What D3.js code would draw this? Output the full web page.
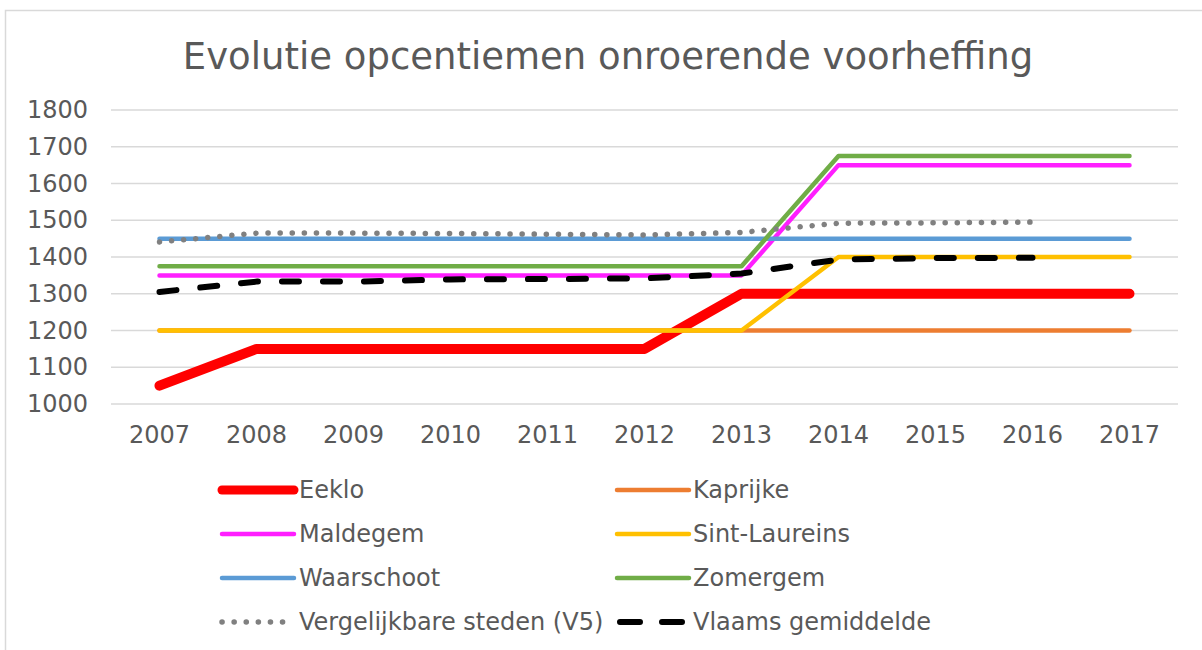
<!DOCTYPE html>
<html>
  <head>
    <meta charset="utf-8">
    <title>Evolutie opcentiemen onroerende voorheffing</title>
    <script src="https://d3js.org/d3.v7.min.js"></script>
    <style>
      body { margin: 0; background: #fff; overflow: hidden; }
      text { font-family: "DejaVu Sans", Verdana, sans-serif; fill: #595959; }
    </style>
  </head>
  <body>
    <svg width="1202" height="650"></svg>
    <script>
      const years = ['2007','2008','2009','2010','2011','2012','2013','2014','2015','2016','2017'];
      const yTicks = [1000, 1100, 1200, 1300, 1400, 1500, 1600, 1700, 1800];

      const eeklo        = [1050, 1150, 1150, 1150, 1150, 1150, 1300, 1300, 1300, 1300, 1300];
      const kaprijke     = [1200, 1200, 1200, 1200, 1200, 1200, 1200, 1200, 1200, 1200, 1200];
      const maldegem     = [1350, 1350, 1350, 1350, 1350, 1350, 1350, 1650, 1650, 1650, 1650];
      const sintLaureins = [1200, 1200, 1200, 1200, 1200, 1200, 1200, 1400, 1400, 1400, 1400];
      const waarschoot   = [1450, 1450, 1450, 1450, 1450, 1450, 1450, 1450, 1450, 1450, 1450];
      const zomergem     = [1375, 1375, 1375, 1375, 1375, 1375, 1375, 1675, 1675, 1675, 1675];
      const v5           = [1441, 1465, 1465, 1464, 1462, 1460, 1467, 1492, 1493, 1495, null];
      const vlaams       = [1305, 1333, 1333, 1339, 1340, 1342, 1355, 1393, 1397, 1398, null];

      const series = [
        { name: 'Eeklo', values: eeklo, color: '#FF0000', width: 10 },
        { name: 'Kaprijke', values: kaprijke, color: '#ED7D31', width: 4.5 },
        { name: 'Maldegem', values: maldegem, color: '#FF1FFF', width: 4.5 },
        { name: 'Sint-Laureins', values: sintLaureins, color: '#FFC000', width: 4.5 },
        { name: 'Waarschoot', values: waarschoot, color: '#5B9BD5', width: 4.5 },
        { name: 'Zomergem', values: zomergem, color: '#70AD47', width: 4.5 },
        { name: 'Vergelijkbare steden (V5)', values: v5, color: '#808080', width: 5.5, dash: '0.1 12' },
        { name: 'Vlaams gemiddelde', values: vlaams, color: '#000000', width: 6, dash: '17 24' }
      ];

      const svg = d3.select('svg');

      // chart frame (only top and left edges are visible in the crop)
      svg.append('path')
        .attr('d', 'M5.5,650 V10.5 H1202')
        .attr('fill', 'none')
        .attr('stroke', '#D9D9D9')
        .attr('stroke-width', 1.5);

      svg.append('text')
        .attr('x', 608)
        .attr('y', 69)
        .attr('text-anchor', 'middle')
        .style('font-size', '37px')
        .text('Evolutie opcentiemen onroerende voorheffing');

      const x = d3.scaleBand().domain(years).range([111, 1178]);
      const y = d3.scaleLinear().domain([1000, 1800]).range([404, 110]);

      // gridlines
      svg.append('g')
        .selectAll('line')
        .data(yTicks)
        .join('line')
          .attr('x1', 111)
          .attr('x2', 1178)
          .attr('y1', d => y(d))
          .attr('y2', d => y(d))
          .attr('stroke', '#D9D9D9')
          .attr('stroke-width', 1.5);

      const yAxis = svg.append('g')
        .attr('transform', 'translate(111,0)')
        .call(d3.axisLeft(y).tickValues(yTicks).tickSize(0).tickPadding(23).tickFormat(d3.format('d')));
      yAxis.select('.domain').remove();
      yAxis.selectAll('text').style('font-size', '24px').attr('fill', '#595959');

      const xAxis = svg.append('g')
        .attr('transform', 'translate(0,404)')
        .call(d3.axisBottom(x).tickSize(0).tickPadding(22));
      xAxis.select('.domain').remove();
      xAxis.selectAll('text').style('font-size', '24px').attr('fill', '#595959');

      const line = d3.line()
        .defined(d => d != null)
        .x((d, i) => x(years[i]) + x.bandwidth() / 2)
        .y(d => y(d));

      svg.append('g')
        .selectAll('path')
        .data(series)
        .join('path')
          .attr('d', d => line(d.values))
          .attr('fill', 'none')
          .attr('stroke', d => d.color)
          .attr('stroke-width', d => d.width)
          .attr('stroke-linecap', 'round')
          .attr('stroke-linejoin', 'round')
          .attr('stroke-dasharray', d => d.dash || null);

      // legend: two columns, four rows
      const legend = svg.append('g')
        .selectAll('g')
        .data(series)
        .join('g')
          .attr('transform', (d, i) => `translate(${i % 2 ? 617 : 222},${490 + Math.floor(i / 2) * 44})`);

      legend.append('line')
        .attr('x1', 0)
        .attr('x2', d => d.dash === '17 24' ? 66 : 72)
        .attr('stroke', d => d.color)
        .attr('stroke-width', d => d.width === 10 ? 9 : d.width)
        .attr('stroke-linecap', 'round')
        .attr('stroke-dasharray', d => d.dash === '0.1 12' ? '0.1 12' : (d.dash ? '20 22' : null))
        .attr('transform', d => d.dash === '17 24' ? 'translate(3,0)' : null);

      legend.append('text')
        .attr('x', (d, i) => i % 2 ? 76 : 77)
        .attr('dy', '0.35em')
        .style('font-size', '24px')
        .text(d => d.name);
    </script>
  </body>
</html>
